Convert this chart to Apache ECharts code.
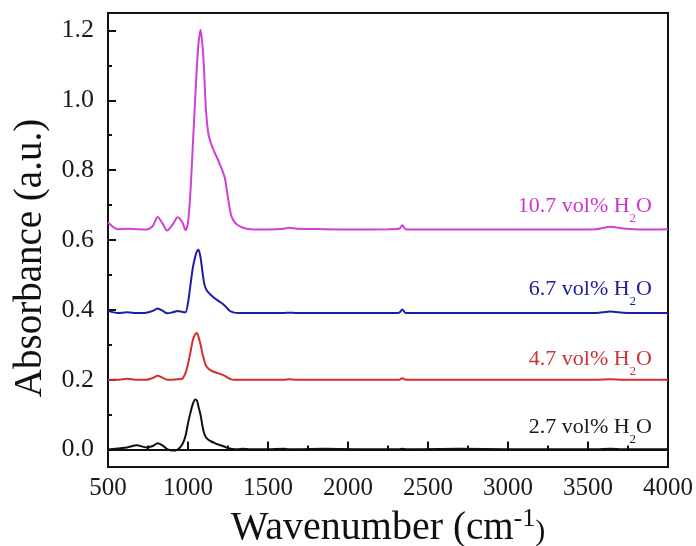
<!DOCTYPE html>
<html>
<head>
<meta charset="utf-8">
<script src="https://cdn.jsdelivr.net/npm/echarts@6/dist/echarts.min.js"></script>
<style>
html,body{margin:0;padding:0;background:#fff;}
#chart{width:696px;height:546px;}
</style>
</head>
<body>
<div id="chart"></div>
<script>
// Wavenumber (cm-1) sample points shared by all spectra
const wavenumber = [500,560,620,680,740,780,810,840,870,905,935,965,985,1000,1015,1030,1045,1056,1066,1079,1090,1100,1112,1127,1145,1165,1185,1205,1230,1250,1270,1290,1310,1340,1390,1500,1600,1630,1680,1850,2050,2250,2320,2340,2360,2450,2700,3000,3300,3550,3640,3720,3850,4000];

// 10.7 vol% H2O (magenta)
const abs107 = [0.650,0.631,0.632,0.631,0.630,0.640,0.666,0.648,0.627,0.645,0.665,0.650,0.628,0.650,0.735,0.870,1.005,1.100,1.165,1.202,1.160,1.090,0.975,0.905,0.875,0.852,0.832,0.810,0.778,0.720,0.670,0.652,0.643,0.636,0.631,0.630,0.632,0.635,0.632,0.631,0.630,0.631,0.632,0.642,0.631,0.630,0.630,0.630,0.630,0.631,0.638,0.633,0.630,0.631];
// 6.7 vol% H2O (blue)
const abs67 = [0.397,0.391,0.393,0.391,0.392,0.397,0.404,0.398,0.390,0.393,0.397,0.394,0.393,0.420,0.470,0.520,0.552,0.568,0.572,0.548,0.510,0.478,0.460,0.450,0.442,0.434,0.427,0.421,0.412,0.402,0.395,0.392,0.391,0.391,0.391,0.391,0.391,0.392,0.391,0.391,0.391,0.391,0.392,0.401,0.391,0.391,0.391,0.391,0.391,0.391,0.395,0.392,0.391,0.391];
// 4.7 vol% H2O (red)
const abs47 = [0.200,0.200,0.203,0.200,0.200,0.205,0.211,0.206,0.200,0.200,0.201,0.203,0.220,0.245,0.278,0.313,0.330,0.334,0.322,0.300,0.275,0.258,0.240,0.232,0.226,0.222,0.219,0.216,0.211,0.205,0.201,0.200,0.200,0.200,0.200,0.200,0.200,0.201,0.200,0.200,0.200,0.200,0.200,0.204,0.200,0.200,0.200,0.200,0.200,0.200,0.201,0.200,0.200,0.200];
// 2.7 vol% H2O (black)
const abs27 = [0.000,0.003,0.006,0.012,0.006,0.010,0.018,0.012,0.001,-0.003,0.000,0.015,0.040,0.075,0.105,0.130,0.143,0.140,0.122,0.098,0.068,0.048,0.035,0.028,0.023,0.019,0.015,0.012,0.008,0.004,0.002,0.001,0.001,0.002,0.001,0.001,0.002,0.001,0.001,0.002,0.001,0.001,0.001,0.002,0.001,0.001,0.002,0.001,0.001,0.001,0.002,0.001,0.001,0.001];

const seriesNames = ['10.7 vol% H2O','6.7 vol% H2O','4.7 vol% H2O','2.7 vol% H2O'];
const seriesLabels = ['10.7 vol% H','6.7 vol% H','4.7 vol% H','2.7 vol% H'];
const seriesData = [abs107, abs67, abs47, abs27];
const lineColors = ['#d23fd6','#1c1ca8','#d42f2f','#111111'];
const labelColors = ['#cc33cc','#1f2096','#cc3333','#1a1a1a'];

const xTicks = { min: 500, max: 4000, interval: 500 };
const yRange = { min: -0.05, max: 1.25, step: 0.2, minorStep: 0.1 };

const serif = '"Liberation Serif","Times New Roman",serif';
const chart = echarts.init(document.getElementById('chart'), null, {renderer: 'canvas'});

const series = seriesData.map((vals, i) => ({
  name: seriesNames[i],
  type: 'line',
  data: wavenumber.map((w, k) => [w, vals[k]]),
  showSymbol: false,
  smooth: 0.25,
  lineStyle: {color: lineColors[i], width: 2},
  itemStyle: {color: lineColors[i]},
  z: 3
}));

// label baselines in pixel layout
const labelY = [212, 295, 365, 433];

const tickStyle = {color: '#111', width: 2};

chart.setOption({
  animation: false,
  backgroundColor: '#fff',
  grid: {left: 108, right: 28, top: 13, bottom: 79, show: true, borderColor: '#111', borderWidth: 2, outerBoundsMode: 'none'},
  xAxis: {
    type: 'value',
    min: xTicks.min, max: xTicks.max, interval: xTicks.interval,
    name: '{w|Wavenumber }{p|(cm}{s|-1}{c|)}',
    nameLocation: 'middle', nameGap: 19,
    nameTextStyle: {
      color: '#111', fontFamily: serif,
      rich: {
        w: {fontSize: 40, fontFamily: serif, color: '#111'},
        p: {fontSize: 39, fontFamily: serif, color: '#111'},
        s: {fontSize: 26, fontFamily: serif, color: '#111', padding: [0,0,20,0]},
        c: {fontSize: 30, fontFamily: serif, color: '#111', padding: [6,0,0,0]}
      }
    },
    axisLine: {show: true, lineStyle: {color: '#111', width: 2}},
    axisTick: {show: true, inside: true, length: 8, lineStyle: tickStyle},
    minorTick: {show: true, splitNumber: 2, length: 4, lineStyle: tickStyle},
    axisLabel: {color: '#1a1a1a', fontSize: 25, fontFamily: serif, margin: 9,
      formatter: v => String(v)},
    splitLine: {show: false}
  },
  yAxis: [{
    type: 'value',
    min: yRange.min, max: yRange.max,
    minInterval: yRange.step, maxInterval: yRange.step, splitNumber: 6,
    name: 'Absorbance (a.u.)',
    nameLocation: 'middle', nameGap: 53,
    nameTextStyle: {color: '#111', fontFamily: serif, fontSize: 39, padding: [0, 36, 0, 0]},
    axisLine: {show: true, lineStyle: {color: '#111', width: 2}},
    axisTick: {show: true, inside: true, length: 8, lineStyle: tickStyle},
    axisLabel: {color: '#1a1a1a', fontSize: 26, fontFamily: serif, margin: 14,
      showMinLabel: false, showMaxLabel: false,
      formatter: v => v.toFixed(1)},
    splitLine: {show: false}
  }, {
    type: 'value',
    position: 'left',
    min: yRange.min, max: yRange.max,
    minInterval: yRange.minorStep, maxInterval: yRange.minorStep, splitNumber: 13,
    axisLine: {show: false},
    axisTick: {show: true, inside: true, length: 4, lineStyle: tickStyle},
    axisLabel: {show: false},
    splitLine: {show: false}
  }],
  series: series,
  graphic: seriesLabels.map((t, i) => ({
    type: 'text',
    x: 652, y: labelY[i] - 25,
    z: 10,
    style: {
      text: '{m|' + t + '}{s|2}{m|O}',
      align: 'right', verticalAlign: 'top',
      fill: labelColors[i],
      rich: {
        m: {fontSize: 22, fontFamily: serif, fill: labelColors[i]},
        s: {fontSize: 13, fontFamily: serif, fill: labelColors[i], padding: [25,0,0,0]}
      }
    }
  }))
});
</script>
</body>
</html>
